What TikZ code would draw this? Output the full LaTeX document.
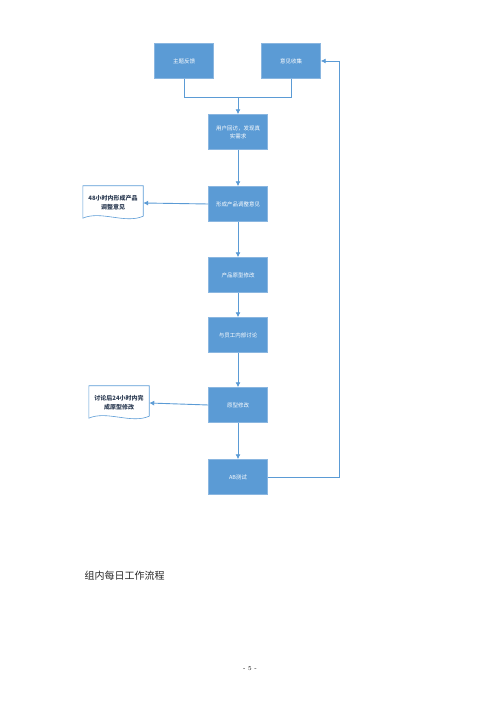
\documentclass[tikz,border=0pt]{standalone}
\usepackage{fontspec}
\newfontfamily\cjk{Noto Sans CJK SC}
\usetikzlibrary{arrows.meta}
\definecolor{boxblue}{HTML}{5B9BD5}
\definecolor{edgeblue}{HTML}{8AB6E0}
\definecolor{doctext}{HTML}{2F3E55}
\tikzset{
	stepbox/.style={draw=edgeblue, fill=boxblue, minimum width=59pt, minimum height=35pt,
		text=white, align=center, font=\cjk\fontsize{5.5}{8}\selectfont, inner sep=1pt},
	doc/.style={minimum width=60pt, minimum height=34pt, align=center,
		text=doctext, font=\cjk\bfseries\fontsize{6}{9}\selectfont, inner sep=1pt},
	link/.style={draw=boxblue, line width=0.9pt},
	arrow/.style={link, -{Latex[length=5pt, width=5pt]}}
}
\begin{document}
\begin{tikzpicture}[x=1pt, y=1pt]
	\useasboundingbox (0,0) rectangle (500,707);

	% top row
	\node[stepbox] (feedback) at (184,646) {主题反馈};
	\node[stepbox] (collect) at (291,646) {意见收集};
	\coordinate (join) at (238,610);
	\coordinate (loop) at (339,646);

	% main column
	\node[stepbox] (visit) at (238,575) {用户回访，发现真\\实需求};
	\node[stepbox] (advice) at (238,503) {形成产品调整意见};
	\node[stepbox] (proto) at (238,432) {产品原型修改};
	\node[stepbox] (discuss) at (238,372) {与员工内部讨论};
	\node[stepbox] (revise) at (238,302) {原型修改};
	\node[stepbox] (abtest) at (238,230) {AB测试};

	% documents
	\node[doc] (doc48) at (113,504) {48小时内形成产品\\调整意见};
	\node[doc] (doc24) at (119,304) {讨论后24小时内完\\成原型修改};
	\foreach \d in {doc48, doc24}
		\draw[draw=boxblue, line width=0.6pt]
			(\d.north west) -- (\d.north east) -- ([yshift=4pt]\d.south east)
			.. controls ([xshift=-18pt, yshift=-4pt]\d.south east) and ([xshift=18pt, yshift=10pt]\d.south west)
			.. ([yshift=2pt]\d.south west) -- cycle;

	% connectors
	\draw[link] (feedback.south) |- (join);
	\draw[link] (collect.south) |- (join);
	\draw[arrow] (join) -- (visit.north);
	\draw[arrow] (visit) -- (advice);
	\draw[arrow] (advice) -- (proto);
	\draw[arrow] (proto) -- (discuss);
	\draw[arrow] (discuss) -- (revise);
	\draw[arrow] (revise) -- (abtest);
	\draw[arrow] (advice.west) -- (doc48.east);
	\draw[arrow] (revise.west) -- (doc24.east);
	\draw[arrow] (abtest.east) -| (loop) -- (collect.east);

	% caption and page number
	\node[anchor=west, font=\cjk\fontsize{10}{12}\selectfont, text=black!85] (caption) at (81,131) {组内每日工作流程};
	\node[font=\fontsize{6}{7}\selectfont] (page) at (250,38) {- 5 -};
\end{tikzpicture}
\end{document}
